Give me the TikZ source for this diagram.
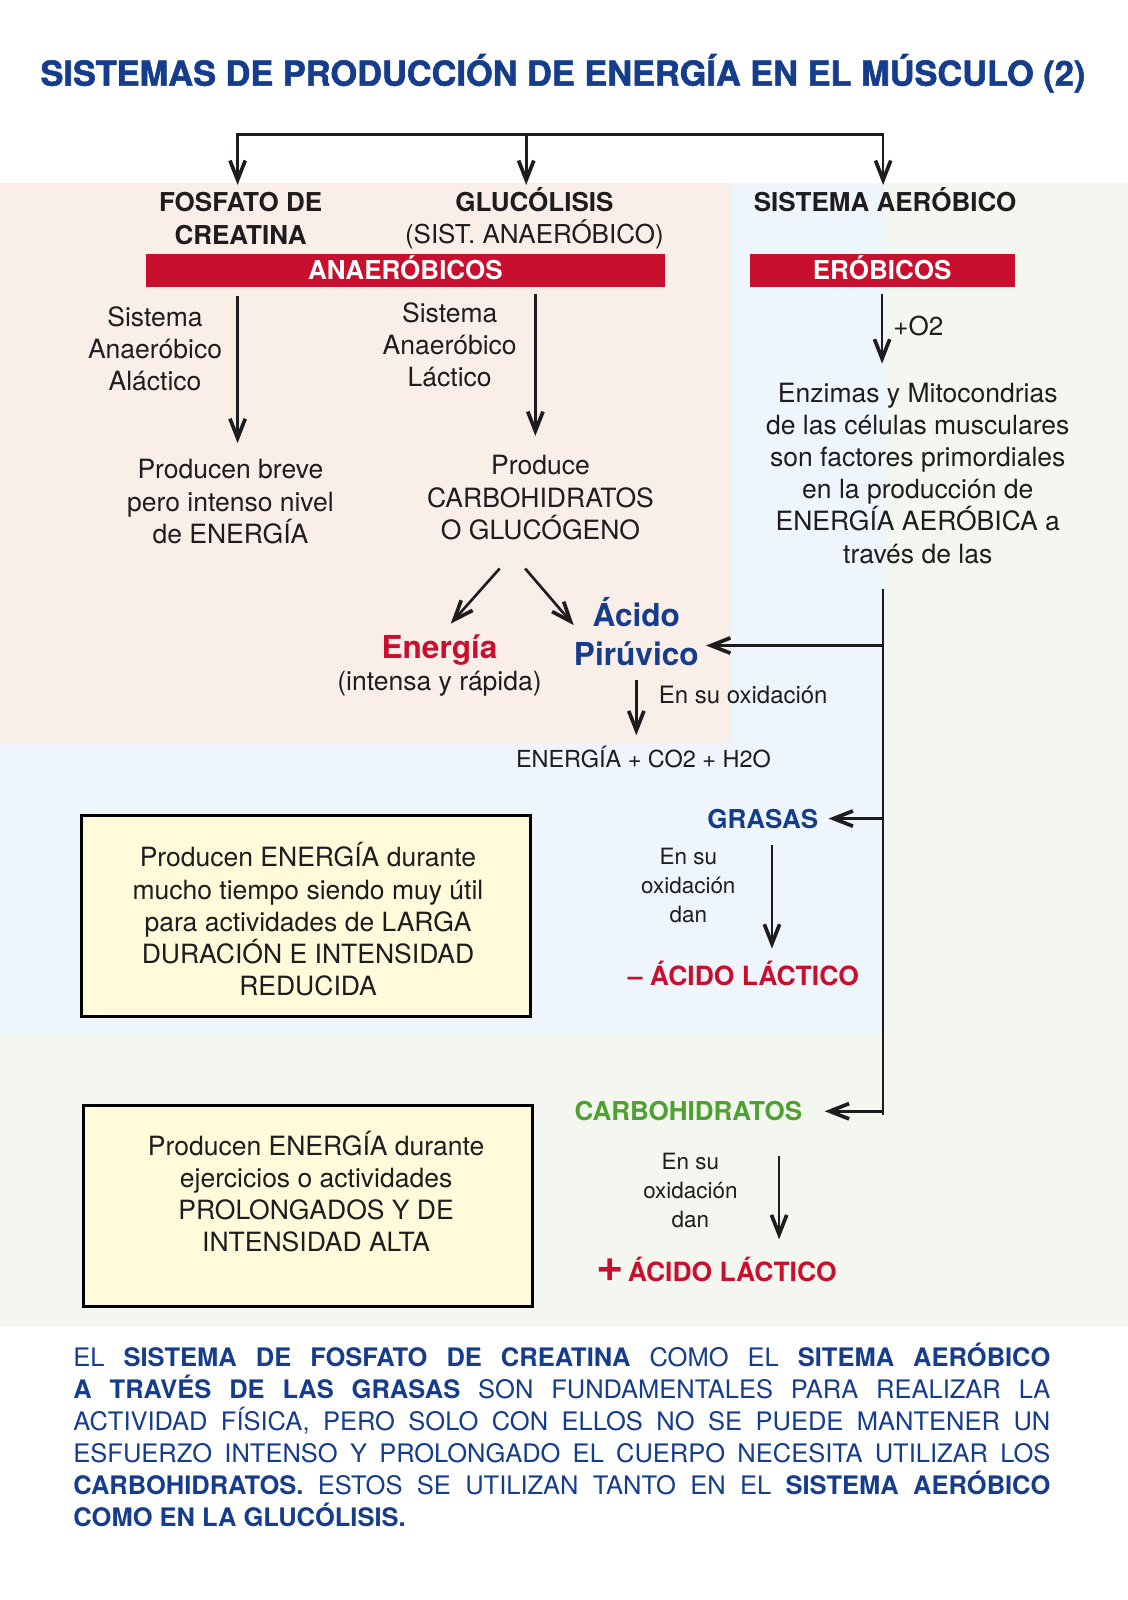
\documentclass[tikz,border=0pt]{standalone}
\usepackage{fontspec}
\setmainfont{TeX Gyre Heros}
\newfontfamily\titlefont[FakeBold=1.6]{TeX Gyre Heros Bold}
\usetikzlibrary{arrows.meta}
\definecolor{pinkbg}{RGB}{250,238,232}
\definecolor{bluebg}{RGB}{238,245,252}
\definecolor{greenbg}{RGB}{244,247,239}
\definecolor{boxfill}{RGB}{255,250,218}
\definecolor{myred}{RGB}{200,16,46}
\definecolor{myblue}{RGB}{22,60,140}
\definecolor{mygreen}{RGB}{78,160,50}
\definecolor{ink}{RGB}{30,28,30}
\tikzset{
 txt/.style={inner sep=0pt, align=center, text=ink, font=\fontsize{26}{31.6}\selectfont},
 hd/.style={inner sep=0pt, align=center, text=ink, font=\bfseries\fontsize{25.5}{32}\selectfont},
 big/.style={inner sep=0pt, align=center, font=\bfseries\fontsize{31}{38}\selectfont},
 small/.style={inner sep=0pt, align=center, text=ink, font=\fontsize{22}{28.5}\selectfont},
 bar/.style={fill=myred, text=white, inner sep=0pt, font=\bfseries\fontsize{25.5}{30}\selectfont, text height=18.4pt, text depth=0pt},
 box/.style={draw=black, line width=2.8pt, fill=boxfill, inner sep=0pt},
 para/.style={inner sep=0pt, align=left, font=\fontsize{25}{31.4}\selectfont, text=myblue},
 conn/.style={line width=2.6pt, draw=ink},
 arr/.style={conn, -{Straight Barb[length=19pt,width=15pt,line width=3.6pt]}},
}
\begin{document}
\begin{tikzpicture}[x=1pt,y=-1pt]
\useasboundingbox (0,0) rectangle (1106,1569);
\fill[white] (0,0) rectangle (1106,1569);
\fill[greenbg] (0,179) rectangle (1106,1301);
\fill[bluebg] (0,179) rectangle (869,1013);
\fill[pinkbg] (0,179) rectangle (716,730);

% title
\node[font=\titlefont\fontsize{33.7}{40}\selectfont, text=myblue, inner sep=0pt, anchor=base] (title) at (552,84) {SISTEMAS DE PRODUCCIÓN DE ENERGÍA EN EL MÚSCULO (2)};

% headers
\node[hd] (fosfato) at (236,214) {FOSFATO DE\\CREATINA};
\node[hd] (gluc) at (524,214) {GLUCÓLISIS\\\mdseries (SIST. ANAERÓBICO)};
\node[hd, anchor=base] (aerob) at (868,207) {SISTEMA AERÓBICO};
\node[bar, minimum width=509pt, minimum height=32pt] (anaer) at (397.5,265) {ANAERÓBICOS};
\node[bar, minimum width=260pt, minimum height=32pt] (erob) at (865,265) {ERÓBICOS};

% anaerobic column
\node[txt] (sal) at (152,342) {Sistema\\Anaeróbico\\Aláctico};
\node[txt] (slac) at (441,338) {Sistema\\Anaeróbico\\Láctico};
\node[txt] (breve) at (226,492) {Producen breve\\pero intenso nivel\\de ENERGÍA};
\node[txt] (produce) at (530,488) {Produce\\CARBOHIDRATOS\\O GLUCÓGENO};
\node[big, text=myred, anchor=base] (energia) at (431,646) {Energía};
\node[txt, anchor=base] (intensa) at (431,677.4) {(intensa y rápida)};
\node[big, text=myblue] (acido) at (624,619) {Ácido\\Pirúvico};
\node[txt, font=\fontsize{23.5}{28}\selectfont, anchor=base west] (oxid) at (646,689.5) {En su oxidación};
\node[txt, font=\fontsize{23}{28}\selectfont, anchor=base] (prod) at (631,752.3) {ENERGÍA + CO2 + H2O};

% aerobic column
\node[txt, font=\fontsize{25.5}{30}\selectfont, anchor=base] (o2) at (900.5,329.4) {+O2};
\node[txt] (enz) at (900,464) {Enzimas y Mitocondrias\\de las células musculares\\son factores primordiales\\en la producción de\\ENERGÍA AERÓBICA a\\través de las};

\node[hd, text=myblue, anchor=base] (grasas) at (748,812) {GRASAS};
\node[small] (ensu1) at (675,868) {En su\\oxidación\\dan};
\node[hd, text=myred, font=\bfseries\fontsize{26}{30}\selectfont, anchor=base] (menos) at (729,966.4) {– ÁCIDO LÁCTICO};

\node[hd, text=mygreen, anchor=base] (carbo) at (675,1099) {CARBOHIDRATOS};
\node[small] (ensu2) at (677,1167) {En su\\oxidación\\dan};
\node[hd, text=myred, font=\bfseries\fontsize{26}{30}\selectfont, anchor=base] (mas) at (702.5,1256.4) {{\fontsize{46}{46}\selectfont +}\,ÁCIDO LÁCTICO};

% boxes
\node[box, minimum width=440pt, minimum height=197pt] (box1) at (300,898.5) {};
\node[txt] (box1t) at (302,901.5) {Producen ENERGÍA durante\\mucho tiempo siendo muy útil\\para actividades de LARGA\\DURACIÓN E INTENSIDAD\\REDUCIDA};
\node[box, minimum width=440pt, minimum height=197pt] (box2) at (302,1182.5) {};
\node[txt] (box2t) at (310,1168.5) {Producen ENERGÍA durante\\ejercicios o actividades\\PROLONGADOS Y DE\\INTENSIDAD ALTA};

% paragraph
\node[para] (nota) at (551,1407.5) {%
\makebox[958pt][s]{EL \textbf{SISTEMA DE FOSFATO DE CREATINA} COMO EL \textbf{SITEMA AERÓBICO}}\\
\makebox[958pt][s]{\textbf{A TRAVÉS DE LAS GRASAS} SON FUNDAMENTALES PARA REALIZAR LA}\\
\makebox[958pt][s]{ACTIVIDAD FÍSICA, PERO SOLO CON ELLOS NO SE PUEDE MANTENER UN}\\
\makebox[958pt][s]{ESFUERZO INTENSO Y PROLONGADO EL CUERPO NECESITA UTILIZAR LOS}\\
\makebox[958pt][s]{\textbf{CARBOHIDRATOS.} ESTOS SE UTILIZAN TANTO EN EL \textbf{SISTEMA AERÓBICO}}\\
\textbf{COMO EN LA GLUCÓLISIS.}};

% connectors
\coordinate (tl) at (233,132);
\coordinate (tm) at (516,132);
\coordinate (tr) at (866,132);
\draw[conn, line cap=rect] (tl) -- (tr);
\draw[arr, shorten >=2pt] (tl) -- (tl |- aerob.north);
\draw[arr, shorten >=2pt] (tm) -- (tm |- aerob.north);
\draw[arr, shorten >=2pt] (tr) -- (tr |- aerob.north);

\draw[arr, shorten <=9pt, shorten >=16pt] (anaer.south -| tl) -- (breve.north -| tl);
\path (produce.north) ++(-5,0) coordinate (pn);
\draw[arr, shorten <=7pt, shorten >=19pt] (pn |- anaer.south) -- (pn);
\draw[arr, shorten <=7pt, shorten >=18.6pt] (erob.south) -- (erob.south |- enz.north);

\draw[arr] ([shift={(-40,28)}]produce.south) -- ([shift={(11,-11)}]energia.north);
\draw[arr] ([shift={(-15,28)}]produce.south) -- ([shift={(0,-6)}]acido.west);

\coordinate (vtop) at (866,578);
\coordinate (vbot) at (866,1093);
\draw[conn] (vtop) -- (vbot);
\path ([shift={(7,14)}]acido.east) coordinate (pe);
\draw[arr] (pe -| vtop) -- (pe);
\draw[arr, shorten <=14pt, shorten >=10pt] (acido.south) -- (acido.south |- prod.north);

\draw[arr, shorten >=10pt] (grasas.east -| vtop) -- (grasas.east);
\path (grasas.south) ++(9,16) coordinate (gs);
\draw[arr, shorten >=12pt] (gs) -- (gs |- menos.north);

\draw[arr, shorten >=22pt] (carbo.east -| vtop) -- (carbo.east);
\path (carbo.south) ++(89,34) coordinate (cs);
\draw[arr, shorten >=17pt] (cs) -- (cs |- mas.north);
\end{tikzpicture}
\end{document}
